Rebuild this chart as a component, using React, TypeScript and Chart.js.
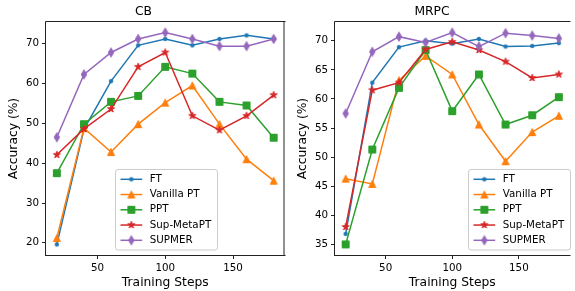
import React, { useEffect, useRef } from "react";
import { Chart, registerables } from "chart.js";
Chart.register(...registerables);

const trainingSteps = [20, 40, 60, 80, 100, 120, 140, 160, 180];
const seriesLabels = ["FT", "Vanilla PT", "PPT", "Sup-MetaPT", "SUPMER"];
const seriesColors = ["#1f77b4", "#ff7f0e", "#2ca02c", "#d62728", "#9467bd"];
const seriesMarkers = ["circle", "triangle", "square", "star", "thinDiamond"];

const cbFT = [19.6, 48.5, 60.6, 69.6, 71.2, 69.6, 71.2, 72.1, 71.2];
const cbVanillaPT = [21.2, 48.8, 42.8, 49.8, 55.2, 59.5, 49.8, 41.0, 35.6];
const cbPPT = [37.5, 49.8, 55.4, 56.9, 64.2, 62.5, 55.4, 54.5, 46.4];
const cbSupMetaPT = [42.1, 48.6, 53.6, 64.2, 67.8, 51.9, 48.3, 51.9, 57.1];
const cbSUPMER = [46.5, 62.3, 67.8, 71.2, 72.8, 71.2, 69.4, 69.4, 71.2];

const mrpcFT = [36.8, 62.8, 68.9, 70.0, 69.5, 70.3, 69.0, 69.1, 69.6];
const mrpcVanillaPT = [46.3, 45.4, 63.2, 67.4, 64.2, 55.6, 49.3, 54.3, 57.1];
const mrpcPPT = [35.0, 51.3, 61.9, 68.4, 57.9, 64.2, 55.6, 57.2, 60.3];
const mrpcSupMetaPT = [38.0, 61.5, 62.8, 68.5, 69.8, 68.4, 66.4, 63.6, 64.2];
const mrpcSUPMER = [57.5, 68.1, 70.7, 69.7, 71.4, 69.0, 71.3, 70.9, 70.4];

const xTickValues = [50, 100, 150];
const cbYTicks = [20, 30, 40, 50, 60, 70];
const mrpcYTicks = [35, 40, 45, 50, 55, 60, 65, 70];

const FONT = '"DejaVu Sans", sans-serif';

function makeMarker(kind: string, color: string): HTMLCanvasElement {
  const c = document.createElement("canvas");
  const s = 14;
  c.width = s;
  c.height = s;
  const ctx = c.getContext("2d")!;
  ctx.translate(s / 2, s / 2);
  ctx.fillStyle = color;
  ctx.strokeStyle = color;
  ctx.lineWidth = 1;
  ctx.lineJoin = "miter";
  ctx.beginPath();
  if (kind === "circle") {
    ctx.arc(0, 0, 1.8, 0, Math.PI * 2);
  } else if (kind === "triangle") {
    ctx.moveTo(0, -3.5);
    ctx.lineTo(3.5, 3.5);
    ctx.lineTo(-3.5, 3.5);
    ctx.closePath();
  } else if (kind === "square") {
    ctx.rect(-3.5, -3.5, 7, 7);
  } else if (kind === "star") {
    const outer = 3.7;
    const inner = outer * 0.381966;
    for (let k = 0; k < 10; k++) {
      const r = k % 2 === 0 ? outer : inner;
      const a = -Math.PI / 2 + (k * Math.PI) / 5;
      const px = r * Math.cos(a);
      const py = r * Math.sin(a);
      if (k === 0) ctx.moveTo(px, py);
      else ctx.lineTo(px, py);
    }
    ctx.closePath();
  } else {
    ctx.moveTo(0, -4.6);
    ctx.lineTo(2.7, 0);
    ctx.lineTo(0, 4.6);
    ctx.lineTo(-2.7, 0);
    ctx.closePath();
  }
  ctx.fill();
  ctx.stroke();
  return c;
}

type Cfg = {
  title: string;
  series: number[][];
  yTicks: number[];
  yWidth: number;
  padRight: number;
  yTitlePad: number;
  drawRightSpine: boolean;
  legendX: number;
  legendY: number;
};

function buildChart(canvas: HTMLCanvasElement, cfg: Cfg) {
  const markers = seriesMarkers.map((m, i) => makeMarker(m, seriesColors[i]));
  const all = cfg.series.flat();
  const lo = Math.min(...all);
  const hi = Math.max(...all);
  const pad = (hi - lo) * 0.05;

  const datasets = cfg.series.map((vals, i) => ({
    label: seriesLabels[i],
    data: trainingSteps.map((s, j) => ({ x: s, y: vals[j] })),
    borderColor: seriesColors[i],
    backgroundColor: seriesColors[i],
    borderWidth: 1.5,
    pointStyle: markers[i] as any,
    pointRadius: 4,
    pointHoverRadius: 4,
    fill: false,
    tension: 0,
    order: seriesLabels.length - i,
  }));

  const framePlugin = {
    id: "frame",
    afterDatasetsDraw(chart: any) {
      const { ctx, chartArea: a } = chart;
      ctx.save();
      ctx.strokeStyle = "#222";
      ctx.lineWidth = 1;
      ctx.beginPath();
      ctx.moveTo(a.left - 0.5, a.bottom + 0.5);
      ctx.lineTo(a.left - 0.5, a.top - 0.5);
      ctx.lineTo(a.right + 1, a.top - 0.5);
      if (cfg.drawRightSpine) {
        ctx.moveTo(a.right - 0.5, a.top - 0.5);
        ctx.lineTo(a.right - 0.5, a.bottom + 0.5);
      }
      ctx.moveTo(a.left - 1, a.bottom + 0.5);
      ctx.lineTo(a.right + 1, a.bottom + 0.5);
      ctx.stroke();
      ctx.restore();
    },
  };

  const legendPlugin = {
    id: "boxLegend",
    afterDraw(chart: any) {
      const ctx = chart.ctx;
      const x = cfg.legendX + 0.5;
      const y = cfg.legendY + 0.5;
      const w = 102;
      const h = 80.5;
      const r = 2.5;
      ctx.save();
      ctx.beginPath();
      ctx.moveTo(x + r, y);
      ctx.lineTo(x + w - r, y);
      ctx.quadraticCurveTo(x + w, y, x + w, y + r);
      ctx.lineTo(x + w, y + h - r);
      ctx.quadraticCurveTo(x + w, y + h, x + w - r, y + h);
      ctx.lineTo(x + r, y + h);
      ctx.quadraticCurveTo(x, y + h, x, y + h - r);
      ctx.lineTo(x, y + r);
      ctx.quadraticCurveTo(x, y, x + r, y);
      ctx.closePath();
      ctx.fillStyle = "rgba(255,255,255,0.8)";
      ctx.fill();
      ctx.strokeStyle = "#cccccc";
      ctx.lineWidth = 1;
      ctx.stroke();
      ctx.font = `10.3px ${FONT}`;
      ctx.textBaseline = "middle";
      ctx.textAlign = "left";
      seriesLabels.forEach((lab, i) => {
        const yy = y + 9.8 + i * 15.25;
        ctx.strokeStyle = seriesColors[i];
        ctx.lineWidth = 1.5;
        ctx.beginPath();
        ctx.moveTo(x + 5, yy);
        ctx.lineTo(x + 26.7, yy);
        ctx.stroke();
        const m = markers[i];
        ctx.drawImage(m, x + 15.85 - m.width / 2, yy - m.height / 2);
        ctx.fillStyle = "#000";
        ctx.fillText(lab, x + 34.3, yy);
      });
      ctx.restore();
    },
  };

  return new Chart(canvas, {
    type: "line",
    data: { datasets },
    options: {
      animation: false,
      responsive: false,
      devicePixelRatio: 1,
      layout: { padding: { left: 0, right: cfg.padRight, top: 0, bottom: 0 } },
      plugins: {
        legend: { display: false },
        tooltip: { enabled: false },
        title: {
          display: true,
          text: cfg.title,
          color: "#000",
          font: { family: FONT, size: 12.3, weight: "normal" },
          padding: { top: 4.0, bottom: 3.24 },
        },
      },
      scales: {
        x: {
          type: "linear",
          min: 12,
          max: 188,
          afterFit: (s: any) => {
            s.height = 36;
          },
          afterBuildTicks: (s: any) => {
            s.ticks = xTickValues.map((v) => ({ value: v }));
          },
          ticks: {
            color: "#000",
            font: { family: FONT, size: 10.3 },
            padding: 3,
            maxRotation: 0,
            autoSkip: false,
          },
          grid: {
            drawOnChartArea: false,
            drawTicks: true,
            tickLength: 4,
            color: "#222",
            lineWidth: 1,
          },
          border: { display: false },
          title: {
            display: true,
            text: "Training Steps",
            color: "#000",
            font: { family: FONT, size: 12.3 },
            padding: { top: 0, bottom: 1.2 },
          },
        },
        y: {
          type: "linear",
          min: lo - pad,
          max: hi + pad,
          afterFit: (s: any) => {
            s.width = cfg.yWidth;
          },
          afterBuildTicks: (s: any) => {
            s.ticks = cfg.yTicks.map((v) => ({ value: v }));
          },
          ticks: {
            color: "#000",
            font: { family: FONT, size: 10.3 },
            padding: 3,
            autoSkip: false,
          },
          grid: {
            drawOnChartArea: false,
            drawTicks: true,
            tickLength: 4,
            color: "#222",
            lineWidth: 1,
          },
          border: { display: false },
          title: {
            display: true,
            text: "Accuracy (%)",
            color: "#000",
            font: { family: FONT, size: 12.3 },
            padding: { top: cfg.yTitlePad, bottom: 0 },
          },
        },
      },
    } as any,
    plugins: [framePlugin, legendPlugin],
  });
}

export default function App() {
  const r1 = useRef<HTMLCanvasElement>(null);
  const r2 = useRef<HTMLCanvasElement>(null);

  useEffect(() => {
    const c1 = buildChart(r1.current!, {
      title: "CB",
      series: [cbFT, cbVanillaPT, cbPPT, cbSupMetaPT, cbSUPMER],
      yTicks: cbYTicks,
      yWidth: 46,
      padRight: 3,
      yTitlePad: 6.4,
      drawRightSpine: true,
      legendX: 115,
      legendY: 169,
    });
    const c2 = buildChart(r2.current!, {
      title: "MRPC",
      series: [mrpcFT, mrpcVanillaPT, mrpcPPT, mrpcSupMetaPT, mrpcSUPMER],
      yTicks: mrpcYTicks,
      yWidth: 45,
      padRight: 1,
      yTitlePad: 5.1,
      drawRightSpine: false,
      legendX: 178,
      legendY: 169,
    });
    return () => {
      c1.destroy();
      c2.destroy();
    };
  }, []);

  return (
    <div
      style={{
        position: "absolute",
        left: 0,
        top: 0,
        width: 575,
        height: 291,
        background: "#fff",
        overflow: "hidden",
      }}
    >
      <canvas
        ref={r1}
        width={290}
        height={291}
        style={{ position: "absolute", left: 0, top: 0, width: 290, height: 291 }}
      />
      <canvas
        ref={r2}
        width={285}
        height={291}
        style={{ position: "absolute", left: 290, top: 0, width: 285, height: 291 }}
      />
    </div>
  );
}
